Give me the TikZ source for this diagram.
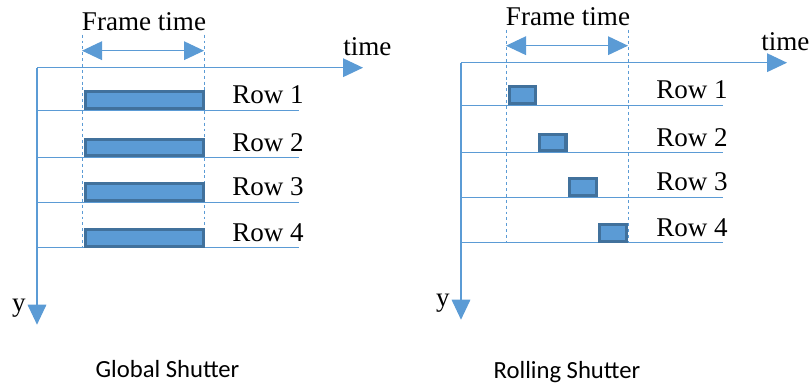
\documentclass[tikz,border=0pt]{standalone}
\usepackage{fontspec}
\setmainfont{Liberation Serif}
\newfontfamily\capfont{Carlito}
\usetikzlibrary{arrows.meta,positioning}
\definecolor{axblue}{HTML}{5B9BD5}
\definecolor{barline}{HTML}{41719C}
\tikzset{
axis/.style={draw=axblue, line width=0.9pt, -{Triangle[length=15pt,width=14pt]}},
frarrow/.style={draw=axblue, line width=0.9pt, {Triangle[length=15pt,width=14pt]}-{Triangle[length=15pt,width=14pt]}},
rowline/.style={draw=axblue, line width=0.75pt},
frameline/.style={draw=axblue, line width=0.75pt, dash pattern=on 2.2pt off 2.2pt},
bar/.style={draw=barline, fill=axblue, line width=2.3pt, minimum height=12.5pt, inner sep=0pt},
lbl/.style={font=\fontsize{20.3}{23}\selectfont, inner sep=0pt},
captext/.style={font=\capfont\fontsize{18.5}{21}\selectfont, inner sep=0pt, anchor=base}
}
\begin{document}
\begin{tikzpicture}[x=0.75pt,y=-0.75pt]
\useasboundingbox (0,0) rectangle (812,384);
% both panels: axes, rows, frame time
\foreach \p/\ox/\oy/\tx in {g/37/67.7/306, r/461/62.7/300}{
\begin{scope}[shift={(\ox,\oy)}]
\coordinate (\p-o) at (0,0);
\coordinate (\p-t) at (326,0);
\coordinate (\p-y) at (0,257);
\draw[axis] (\p-o) -- (\p-t);
\draw[axis] (\p-o) -- (\p-y);
\node[lbl, anchor=west] (\p-time) at (\tx,-21) {time};
\node[lbl, anchor=east] (\p-ylab) at (-11,241) {y};
\coordinate (\p-d1) at (45,-33);
\coordinate (\p-d2) at (45,180);
\coordinate (\p-d3) at (167,-33);
\coordinate (\p-d4) at (167,180);
\draw[frameline] (\p-d1) -- (\p-d2);
\draw[frameline] (\p-d3) -- (\p-d4);
\coordinate (\p-f1) at (45,-17);
\coordinate (\p-f2) at (167,-17);
\draw[frarrow] (\p-f1) -- (\p-f2);
\node[lbl] (\p-ft) at (107,-46) {Frame time};
\foreach \i/\ry in {1/42.4,2/89.8,3/134.4,4/180}{
\coordinate (\p-r\i) at (0,\ry);
\coordinate (\p-e\i) at (262,\ry);
\draw[rowline] (\p-r\i) -- (\p-e\i);
\node[lbl] (\p-l\i) at (231,\ry-15) {Row \i};
}
\end{scope}
}
% global shutter: all rows exposed together
\begin{scope}[shift={(37,67.7)}]
\foreach \i/\ry in {1/42.4,2/89.8,3/134.4,4/180}
\node[bar, minimum width=89pt, anchor=south west] (g-b\i) at (46.5,\ry) {};
\node[captext] (g-cap) at (130.5,309.3) {Global Shutter};
\end{scope}
% rolling shutter: rows exposed one after another
\begin{scope}[shift={(461,62.7)}]
\foreach \i/\ry in {1/42.4,2/89.8,3/134.4,4/180}
\node[bar, minimum width=20pt, anchor=south west] (r-b\i) at ({46.5+30.3*(\i-1)},\ry) {};
\node[captext] (r-cap) at (106,315.3) {Rolling Shutter};
\end{scope}
\end{tikzpicture}
\end{document}
